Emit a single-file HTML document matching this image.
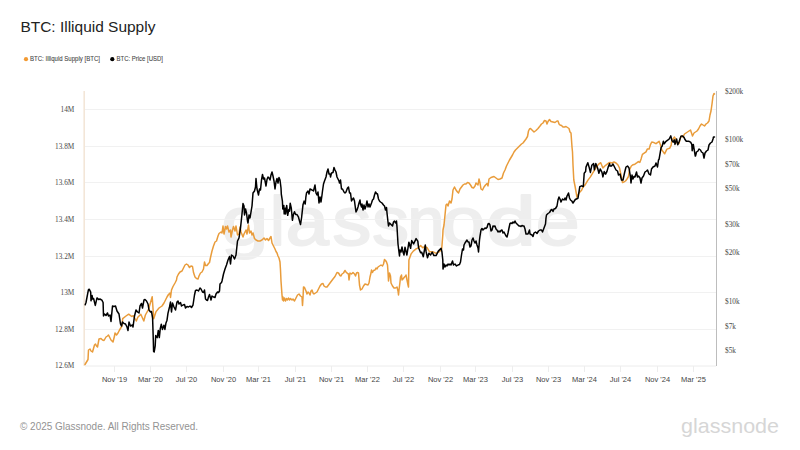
<!DOCTYPE html>
<html><head><meta charset="utf-8">
<style>
html,body{margin:0;padding:0;background:#fff;width:800px;height:450px;overflow:hidden}
svg{display:block}
.sans{font-family:"Liberation Sans",sans-serif}
.serif{font-family:"Liberation Serif",serif}
</style></head>
<body>
<svg width="800" height="450" viewBox="0 0 800 450">
<rect width="800" height="450" fill="#fff"/>
<text x="20.4" y="32" class="sans" font-size="15" fill="#222" textLength="135" lengthAdjust="spacingAndGlyphs">BTC: Illiquid Supply</text>
<circle cx="26" cy="59.2" r="2.1" fill="#f29a33"/>
<text x="30" y="61" class="sans" font-size="6.6" fill="#444" stroke="#444" stroke-width="0.08" textLength="70" lengthAdjust="spacingAndGlyphs">BTC: Illiquid Supply [BTC]</text>
<circle cx="112.3" cy="59.2" r="2.1" fill="#000"/>
<text x="116.5" y="61" class="sans" font-size="6.6" fill="#444" stroke="#444" stroke-width="0.08" textLength="46.5" lengthAdjust="spacingAndGlyphs">BTC: Price [USD]</text>
<!-- watermark -->
<g class="sans" font-size="69" fill="#eeeeee" stroke="#eeeeee" stroke-width="2" stroke-linejoin="round"><text transform="translate(221.16 244.5) scale(1.231 1)">g</text><text transform="translate(270.13 244.5) scale(0.937 1)">l</text><text transform="translate(285.67 244.5) scale(1.120 1)">a</text><text transform="translate(332.49 244.5) scale(1.122 1)">s</text><text transform="translate(372.24 244.5) scale(1.062 1)">s</text><text transform="translate(407.54 244.5) scale(0.962 1)">n</text><text transform="translate(441.54 244.5) scale(1.139 1)">o</text><text transform="translate(486.03 244.5) scale(1.301 1)">d</text><text transform="translate(535.83 244.5) scale(1.143 1)">e</text></g>
<!-- gridlines -->
<g stroke="#f1f1f1" stroke-width="1">
<line x1="85" y1="109.5" x2="716" y2="109.5"/>
<line x1="85" y1="146.5" x2="716" y2="146.5"/>
<line x1="85" y1="182.5" x2="716" y2="182.5"/>
<line x1="85" y1="219.5" x2="716" y2="219.5"/>
<line x1="85" y1="256.5" x2="716" y2="256.5"/>
<line x1="85" y1="292.5" x2="716" y2="292.5"/>
<line x1="85" y1="329.5" x2="716" y2="329.5"/>
</g>
<line x1="85" y1="366" x2="716" y2="366" stroke="#ececec" stroke-width="1"/>
<line x1="84.2" y1="91" x2="84.2" y2="366" stroke="#f3e6d8" stroke-width="1.6"/>
<line x1="716.5" y1="91" x2="716.5" y2="366" stroke="#bdbdbd" stroke-width="1"/>
<g class="serif" font-size="7.3" fill="#484848" text-anchor="end">
<text x="74.3" y="112">14M</text>
<text x="74.3" y="148.7">13.8M</text>
<text x="74.3" y="185.3">13.6M</text>
<text x="74.3" y="222">13.4M</text>
<text x="74.3" y="258.6">13.2M</text>
<text x="74.3" y="295.3">13M</text>
<text x="74.3" y="332">12.8M</text>
<text x="74.3" y="368">12.6M</text>
</g>
<g class="serif" font-size="7.3" fill="#484848">
<text x="725" y="93.5">$200k</text>
<text x="725" y="142.3">$100k</text>
<text x="725" y="167">$70k</text>
<text x="725" y="190.8">$50k</text>
<text x="725" y="226.8">$30k</text>
<text x="725" y="254.8">$20k</text>
<text x="725" y="304.4">$10k</text>
<text x="725" y="329">$7k</text>
<text x="725" y="352.7">$5k</text>
</g>
<g stroke="#ededed" stroke-width="1">
<line x1="114.5" y1="366" x2="114.5" y2="372"/>
<line x1="150.5" y1="366" x2="150.5" y2="372"/>
<line x1="186.5" y1="366" x2="186.5" y2="372"/>
<line x1="223.5" y1="366" x2="223.5" y2="372"/>
<line x1="258.5" y1="366" x2="258.5" y2="372"/>
<line x1="295.5" y1="366" x2="295.5" y2="372"/>
<line x1="331.5" y1="366" x2="331.5" y2="372"/>
<line x1="367.5" y1="366" x2="367.5" y2="372"/>
<line x1="403.5" y1="366" x2="403.5" y2="372"/>
<line x1="440.5" y1="366" x2="440.5" y2="372"/>
<line x1="475.5" y1="366" x2="475.5" y2="372"/>
<line x1="512.5" y1="366" x2="512.5" y2="372"/>
<line x1="548.5" y1="366" x2="548.5" y2="372"/>
<line x1="584.5" y1="366" x2="584.5" y2="372"/>
<line x1="620.5" y1="366" x2="620.5" y2="372"/>
<line x1="657.5" y1="366" x2="657.5" y2="372"/>
<line x1="693.5" y1="366" x2="693.5" y2="372"/>
</g>
<g class="sans" font-size="7.5" fill="#444" text-anchor="middle">
<text x="114.5" y="382">Nov '19</text>
<text x="150.5" y="382">Mar '20</text>
<text x="186.5" y="382">Jul '20</text>
<text x="223.5" y="382">Nov '20</text>
<text x="258.5" y="382">Mar '21</text>
<text x="295.5" y="382">Jul '21</text>
<text x="331.5" y="382">Nov '21</text>
<text x="367.5" y="382">Mar '22</text>
<text x="403.5" y="382">Jul '22</text>
<text x="440.5" y="382">Nov '22</text>
<text x="475.5" y="382">Mar '23</text>
<text x="512.5" y="382">Jul '23</text>
<text x="548.5" y="382">Nov '23</text>
<text x="584.5" y="382">Mar '24</text>
<text x="620.5" y="382">Jul '24</text>
<text x="657.5" y="382">Nov '24</text>
<text x="693.5" y="382">Mar '25</text>
</g>
<path d="M85 364.5 L88 359.5 L88.5 350 L90 349 L91 351 L92.5 352 L94.5 345 L95.5 344 L96.5 346 L97.5 347 L99 339 L101 338.5 L102.5 340 L104 340.5 L106 337 L107.5 336 L108.5 335 L110 338 L111 340 L113 342 L114.5 336 L115 333 L116.5 335 L118 333 L119.5 330 L122 326 L122.7 318.7 L126 316 L128.7 314.2 L131.7 316.5 L133.3 315.7 L136.3 321 L137.8 317.2 L140.8 314.2 L143.8 321 L145.4 315 L148.4 309.7 L152.2 296.8 L153.7 318.7 L155.9 311.9 L159 308 L162 306 L164 303 L165.5 300 L167 297 L168.5 294.5 L170 293 L170.5 297.5 L171.5 290 L173 286.5 L175 283 L176.5 280 L177 277 L178.5 274 L180 272 L182 271 L183.5 268 L185 265 L186.5 264 L188 265 L189.5 267.5 L191 266 L192.5 266.5 L193.5 272.5 L195 277 L196.5 278.5 L198 279 L199 276 L200.5 273 L202 272 L203.5 269 L204.5 262 L205.5 265.5 L207 265.5 L208.5 263.5 L209.5 262.5 L210.5 257.5 L212 251 L213.5 246 L215 242 L216.5 241 L218 236 L219 233.5 L221 232 L222 233 L223 226 L224 234 L225.5 226.5 L226.5 229 L227.5 226 L229 232 L230.5 230 L231 237 L232.5 230 L233.5 226.5 L235 231 L236 226 L237.5 235 L239 234 L240 227 L241 232 L243 237 L244 234 L246 230 L247 234 L248.5 225 L249.5 233 L251 231 L252 235 L253 233 L254.5 238.5 L256 240 L258 241 L260 241 L262 240 L264 238 L265.5 240 L267 238.5 L268.5 240.5 L270 238 L271 236.5 L272 243 L273 245 L274 247 L275 249 L276 251.5 L277 253 L278 256 L279 258 L280 262 L280.5 270 L281 281 L281.5 288 L282 295 L282.5 300 L283 297 L283.5 301 L284.5 298 L285.5 301 L286.5 298.5 L287.5 300 L288.5 298 L289.5 300 L290.5 298.5 L292 300 L293 299 L294.5 301 L296 298 L297.5 295 L299 294 L300.5 296 L302 297 L302.5 305.5 L303 298 L303.5 287 L304.5 287.5 L306 291 L307 294 L308 292 L309 293 L310 295 L311 291 L312 290 L313 293 L314 294 L315.5 293 L317 292 L318.5 289 L320 286 L321.5 284 L323 283.5 L324 286 L325.5 287 L327 287 L328.5 285 L330 283 L331.5 281 L333 279 L335 276.5 L337 272.5 L338.5 273 L340 275.5 L341 276 L342 274 L343.5 273 L345 270.5 L346 272 L347.5 273.5 L348.5 274 L349 280 L350 273 L351.5 274 L353 272.5 L354.5 274 L355.5 276 L356.5 273 L357.5 272.5 L358.5 273 L359.5 285 L360.5 290 L362 289 L363.5 286 L365 284 L366.5 284.5 L368 285 L369 283 L370 277 L371 273 L371.5 270 L372.5 272.5 L373.5 270.5 L375 270 L376 268 L377 269 L378 267 L379.5 266 L381 265 L382.5 266 L383.5 264 L384.5 259.5 L385.5 260.5 L386.5 262 L387.5 265 L388 272 L388.5 281 L389.5 273 L390.5 276 L391 283 L392.5 286 L394 288 L395.5 288 L397 287 L398 291 L398.5 295 L399 290 L400 282 L400.5 277 L401.5 275 L402 280 L403 279 L404.5 277 L405.5 276 L406 275 L407 280 L408 285 L408.5 287 L408.9 260 L411.1 253.9 L413.3 251.1 L416.1 248.9 L418.3 247.8 L420.6 245.6 L422.8 247.8 L424.5 246.5 L427.2 247.8 L429.4 251.7 L432.8 251.7 L436.1 253.3 L439.4 251.7 L441.7 248.9 L442.8 235 L443 230 L444 225 L445 215 L446 205 L447 204 L448 206 L449.5 201 L451 203 L452 199 L453 190 L454.5 187 L456 190 L457.5 192 L458.5 193 L460 189 L461.5 187 L463 185 L464.5 184 L466 184 L467.5 182.5 L469 183 L470.5 185 L472 187.5 L473.5 188 L475 186 L476 183 L477 184 L478 185 L479 179 L480 183 L481 189 L482.5 190 L484 187 L485.5 185 L487 183.5 L488 186 L489 179 L491 177.5 L494 176.5 L496 178 L498 179.5 L500 179 L502 178 L503.5 173 L505 170 L506.5 166 L508 163 L509.5 160 L511 157.5 L512.5 155 L514 152 L515.5 150 L517 148.5 L518.5 147 L520 145.5 L521.5 144 L523 143 L524.5 141 L526 139 L527.5 136.5 L528.5 131 L529.5 129 L530.5 128.5 L532 130 L534 132 L536 130.5 L538 128.5 L540 126 L541.5 124 L543 123 L544.5 120.5 L546 121 L547 124 L548 121.5 L549.5 119.5 L551 121.5 L553 122 L555 122.5 L557 121 L558 121 L559 124 L560 125 L561.5 125.5 L563 127 L564.5 127 L566 126.5 L567.5 127.5 L569 128.5 L570 132 L571 133 L571.5 140 L572 147 L572.5 152 L573 165 L573.8 180 L575 186 L577 197.3 L579 193 L581.6 190.2 L583 187 L585.1 184.9 L587.8 180.4 L590.4 176.9 L593.1 172.4 L595.8 168 L598.4 164.4 L600.7 162.7 L602.9 168 L605.6 165.3 L609.1 162.7 L610 162.5 L612 163 L614 162 L616 163 L618 165 L619.5 168 L621 175 L622.5 182.5 L624 182 L625.5 181 L627 179 L628.5 176.5 L629.6 169.6 L631.3 166 L633.1 164.7 L634.9 164.2 L636.7 162.9 L638.4 161.6 L639.8 162.4 L641.1 158.9 L642.4 154.4 L644.2 153.1 L646 151.8 L647.3 149.1 L649.1 149.1 L650.4 144.7 L651.8 142 L653.6 142.4 L655.3 143.3 L656 143.7 L659.1 141.3 L660.3 144.4 L661.8 149.9 L664.6 153.8 L666.9 149.1 L669.6 148.3 L671.2 145.2 L671.5 142 L673 139 L674.5 137 L676 140 L677.5 144 L679 143.5 L680 139 L681.5 136 L683 137 L684.5 134 L686 133 L687.5 132 L689 131 L690.5 130 L691.5 133 L692.5 136 L694 133 L695.5 132 L697 131 L698.5 129 L700 126 L701.5 124 L703 125 L704.5 126 L706 124 L707.5 123 L709 121 L710 115 L711 111 L712 104 L712.5 100 L713 96 L714 93.5 L714.5 94" fill="none" stroke="#e99c3b" stroke-width="1.5" stroke-linejoin="round" stroke-linecap="round"/>
<path d="M85.2 304.8 L86 302.5 L88.4 289.8 L89.2 289.2 L90.7 292.1 L91 300.8 L92.1 295.6 L92.7 299 L93.6 298.5 L95.3 305.4 L97 297.9 L98.8 299.6 L99.9 299 L101.9 300.2 L103.1 302.5 L103.5 316 L104.5 314 L106 315.5 L107.5 313 L108.5 316 L110 315 L111 321.5 L112.5 306 L114 306.5 L115.5 306 L117 311 L119 314 L120.5 324 L121.5 326 L122.5 322 L124 323.5 L125.5 324 L127 327 L128 330.5 L129 322 L130.5 326 L132.5 325 L133 327 L134.5 316 L136 310 L137.5 312 L139 313 L140 306 L141.5 303.5 L142.5 308 L144 300 L145 299.5 L146.5 301 L148 304 L149 310 L150.5 312 L151.5 311.5 L152.6 318 L153.3 340 L153.6 351.5 L154.2 352 L155.2 345.8 L155.7 335.6 L157.2 337.6 L158.3 330.4 L159.3 337.6 L160.3 328.4 L161.3 324.3 L162.4 329.4 L163.9 325.3 L164.9 329.4 L165.9 323.3 L167 320.2 L168 313.1 L169.5 307 L170.5 302 L171.5 312 L172.5 303 L174 307 L175.5 310 L177 302 L178 301 L179 304 L180.5 302.5 L181.5 306 L183 305 L184.5 304.5 L185.5 308 L187 306.5 L188.5 307 L190 306 L191.5 307.5 L193 305 L194.5 295 L195.5 290.5 L197 290 L198.5 291 L200 288 L201 289 L202.5 292 L203.5 292.5 L204.5 290 L205.5 299 L206.5 300 L207.5 300.5 L208.5 297 L209.5 294.5 L210.5 298 L211 300 L212 296 L213.5 297 L215 297.5 L216 294 L217.5 292 L218.5 292.5 L219.5 291 L220 284 L221.5 282.5 L222 281 L223.5 274 L225 269 L226.5 265 L228 260 L229.5 256.5 L230.5 264 L231.5 255 L233 256 L234.5 259 L236 255 L237.5 241 L239 238 L240.5 228 L242 214 L243 203.5 L244 206 L244.5 215 L245.5 209 L246.5 213 L247.5 221 L248 223 L249 215 L250 218 L251 212 L252 206 L253 193 L254.5 191 L255.5 187 L256 178.5 L257 189 L258.5 195 L259.5 189 L260.5 190 L261.5 180 L262.5 174.5 L263.5 179 L264.5 178 L266 186 L267 179.5 L268 177 L269 178 L270 180 L271 175 L272 172 L273 176 L274 181 L275 189 L276 182 L277 178.5 L278 183 L279 177.5 L280 180 L281 188 L281.3 194 L282.4 201.1 L282.8 208.9 L283.8 205.4 L284.2 213.9 L285.2 208.2 L285.6 213.9 L286.7 205.4 L287.7 215.3 L288.8 209.6 L289.5 211.1 L290.2 203.2 L291.3 208.2 L292.4 220.3 L293.4 214.6 L294.5 211.8 L295.6 214.6 L297 214.6 L298.4 216.8 L299.5 221 L300.5 224.6 L301.6 217.5 L303 204.7 L304.1 201.1 L305.2 204 L305.9 196.8 L306.5 193 L308 191 L309 194 L310 189 L312 190 L313.5 191 L315 185 L316 193 L317 195 L318 192 L319 203 L320 197 L321 202 L322 195 L322.5 191 L323.5 184 L324.5 181 L326 177 L327 172 L328 169 L329 174 L330 174 L330.5 177 L331.5 173 L333 172.5 L334 167.5 L335 170 L336 172 L337 177 L338 179 L339 181 L339.5 183 L340.5 180 L341.5 189 L342.5 189 L344 192 L345 193 L346 192 L347.5 188 L348.5 187 L349.5 193 L350.5 193 L351.5 201 L352 200 L353.5 198 L354.5 201 L355 205 L356 212 L357 210 L358 207 L359 203 L360 200 L360.5 204 L361.5 207 L362 204 L363 210 L364 205 L365 209 L366 206 L367 201 L368 207 L369 204 L370 207 L371.5 203 L372.5 200 L373.5 199 L374.5 195 L375.5 192 L376.5 193.5 L377.5 194 L378.5 199 L379.5 201 L380.5 202 L382 203 L383.5 205 L384.5 206 L385.5 210 L386.5 207.5 L387 213 L388 222 L388.5 226 L389.5 223 L390.5 224 L391.5 225 L392.5 226 L393.5 222 L394.5 221 L395.5 223 L396.5 221 L397 227 L398 244 L399.5 256 L400 250 L401 252 L402 247 L403 252 L404 255 L405 247.2 L406.9 255 L408.9 242.2 L410.6 248.3 L411.7 240.6 L413.6 243.9 L416.1 238.6 L417.8 241.1 L418.6 247.8 L420.6 252.8 L421.7 252.2 L423.3 256.7 L425.3 245 L426.1 251.7 L427.5 257.8 L428.9 253.3 L430.6 255 L432.2 252.2 L433.9 255.6 L436.1 255.6 L438.3 251.1 L441.1 248.3 L441.9 251.7 L442.8 260 L443 269 L444 264 L445 267 L446 265 L447 266 L448 264 L449 265 L450 264 L451 265 L452.5 261 L453.5 265 L455 264 L456.5 266 L458 265 L459.5 264.5 L460.5 262 L461.5 255 L462.5 249 L463.5 250 L464 245 L465 243 L466 241.5 L467 240 L468 242 L469 242 L470 247 L471 246 L472 240 L473 238 L474 241 L475 243 L476 241 L477 245 L478 248 L478.5 252 L479.5 240 L480 236 L481 230 L482 228.5 L483 230 L484 229 L485 228 L486 228.5 L487 227.5 L488 224 L489 223.5 L490 225 L491 231 L492 230 L493 226 L494 226.5 L495 226 L496 229 L497 230 L498 232 L499 231 L500 232 L501 230.5 L502 230 L503 233 L504 232 L505 234 L506 236 L507 237 L508 233 L509 228 L510 223.5 L511 223 L512 223.5 L513 222 L514 223 L515 221 L516 223 L517 224 L518 225 L519 226 L520 226 L521 226.5 L522 225.5 L523 226 L524 226 L525 229 L526 234 L528 234 L529.5 230 L530 234 L532 235 L533 236.5 L534 233 L535.5 232 L537 233.5 L538.5 231 L540 230 L541.5 230 L542.5 232 L544 228 L545.5 224 L546 218 L546.5 215 L548 213.5 L549.5 212.5 L551 210 L552 209.5 L553 211.5 L554 209 L555.5 208.5 L557 206 L558 200 L559 197 L560 199 L561 202 L562.5 199 L564 200 L565 198 L566 200 L567 196 L568.5 193 L569.5 198 L570.5 200 L571.8 201 L573 203 L575.3 199.5 L578 198.2 L579.8 186.7 L581.6 185.8 L583.3 186.7 L584.2 173.3 L585.6 171.6 L586 167.1 L587.8 162.7 L589.1 167.1 L590.4 172.4 L591.8 165.3 L593.6 163.6 L594.4 169.8 L595.8 163.6 L597.6 168 L598.9 173.3 L600.2 168.9 L602 172.4 L602.9 176.9 L604.2 171.6 L605.6 174.2 L606.9 171.6 L608.2 167.1 L609.6 163.6 L610 166 L611.5 166 L613 164 L614.5 167 L616 170 L617.5 171 L618.5 175 L620 174 L621.5 180 L623 180 L624.5 173 L626 167 L627.5 166 L629 168 L630.5 177 L631 183 L632 175 L633 179 L634 176.5 L635 177 L636.5 172 L637.5 177 L638.5 176 L640 178 L641 183 L642 178 L643.5 176 L645 172 L646.5 171 L647.5 170 L649 174 L650.5 175 L651.5 169 L653 167 L655 166 L656 163 L657.5 167 L658.5 160 L659.1 159.2 L660.3 152.2 L661.1 147.6 L662.2 146 L663.4 141.3 L664.2 143.7 L665.7 141.7 L667.7 140.2 L669.2 139 L670.8 135.9 L671.9 140.6 L673.1 142.1 L674.3 139.8 L675 144.4 L676.6 139 L677.8 144.8 L679.3 141.3 L680.9 136.3 L682.4 135.9 L684 137.4 L685.2 139.8 L686.3 141.3 L688.7 141.3 L690.6 142.1 L691.8 144.4 L692.2 150.7 L693.3 144.4 L694.1 149.1 L695.3 156.1 L695.5 156 L696.5 152 L698 151 L699 149 L700.5 150 L701.5 152 L703 153 L704 158 L705 153 L706.5 151 L708 150 L709 145 L710.5 143 L712 142 L713 139 L713.5 137 L714.5 137" fill="none" stroke="#000" stroke-width="1.5" stroke-linejoin="round" stroke-linecap="round"/>
<text x="20" y="430" class="sans" font-size="10.5" fill="#939393" textLength="178" lengthAdjust="spacingAndGlyphs">© 2025 Glassnode. All Rights Reserved.</text>
<text x="681" y="433" class="sans" font-size="21" fill="#d6d6d6" textLength="98" lengthAdjust="spacingAndGlyphs">glassnode</text>
</svg>
</body></html>
